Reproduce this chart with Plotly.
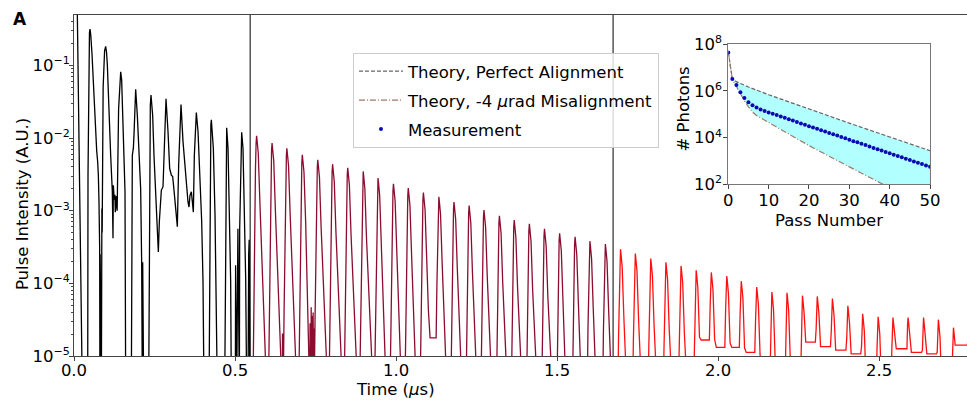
import plotly.graph_objects as go

# ---------------- main panel data ----------------
# early (black) part of the trace: time (us), log10 intensity
black_t = [0.000, 0.0104, 0.0259, 0.0425, 0.0435, 0.0455, 0.0480, 0.0497, 0.0520, 0.0560,
           0.0600, 0.0652, 0.0683, 0.0704, 0.0735, 0.0756, 0.0776, 0.0797, 0.0805, 0.0812,
           0.0820, 0.0828, 0.0836, 0.0850, 0.0866, 0.0875, 0.0905, 0.0950, 0.0983, 0.1010,
           0.1035, 0.1087, 0.1139, 0.1190, 0.1211, 0.1222, 0.1250, 0.1270, 0.1283, 0.1315,
           0.1340, 0.1385, 0.1425, 0.1450, 0.1480, 0.1500, 0.1553, 0.1584, 0.1605, 0.1780,
           0.1811, 0.1843, 0.1863, 0.1890, 0.1915, 0.1967, 0.2019, 0.2070, 0.2101, 0.2122,
           0.2133, 0.2143, 0.2154, 0.2164, 0.2319, 0.2350, 0.2370, 0.2391, 0.2443, 0.2484,
           0.2536, 0.2588, 0.2619, 0.2650, 0.2712, 0.2764, 0.2795, 0.2830, 0.2857, 0.2919,
           0.2971, 0.3023, 0.3064, 0.3106, 0.3157, 0.3209, 0.3250, 0.3300, 0.3323, 0.3385,
           0.3437, 0.3489, 0.3540, 0.3571, 0.3602, 0.3644, 0.3675, 0.3706, 0.3737, 0.3775,
           0.3799, 0.3851, 0.3913, 0.3965, 0.4006, 0.4037, 0.4193, 0.4224, 0.4250, 0.4265,
           0.4327, 0.4379, 0.4431, 0.4451, 0.4679, 0.4710, 0.4727, 0.4741, 0.4783, 0.4834,
           0.4865, 0.4886, 0.5010, 0.5018, 0.5028, 0.5040, 0.5052, 0.5090, 0.5105, 0.5135,
           0.5145, 0.5176, 0.5195, 0.5207, 0.5248, 0.5300, 0.5331, 0.5362, 0.5404, 0.5425,
           0.5440, 0.5460]
black_log = [0.60, -0.31, -5.5, -5.5, -2.5, -0.95, -0.55, -0.50, -0.58, -0.85,
             -1.23, -1.69, -2.12, -2.17, -2.33, -2.51, -2.88, -3.52, -5.5, -3.6,
             -5.5, -3.7, -5.5, -5.5, -2.97, -3.3, -1.3, -0.80, -0.74, -0.82,
             -0.99, -1.69, -2.24, -2.74, -3.38, -2.65, -2.85, -2.78, -3.02, -2.80,
             -3.00, -1.60, -1.15, -1.09, -1.20, -1.50, -2.28, -2.74, -5.5, -5.5,
             -2.24, -2.14, -1.96, -1.45, -1.33, -1.69, -2.24, -2.70, -3.71, -5.5,
             -3.71, -5.5, -3.85, -5.5, -5.5, -2.14, -1.55, -1.41, -1.69, -2.24,
             -2.74, -3.06, -3.57, -3.15, -2.72, -2.67, -2.24, -1.60, -1.46, -1.91,
             -2.42, -2.51, -2.53, -2.72, -2.97, -3.22, -2.37, -1.62, -1.54, -2.05,
             -2.37, -2.70, -2.88, -2.95, -2.79, -2.74, -2.88, -3.02, -2.24, -1.72,
             -1.65, -1.91, -2.60, -3.15, -3.98, -5.5, -5.5, -2.60, -1.82, -1.75,
             -2.14, -3.06, -4.44, -5.5, -5.5, -2.60, -1.92, -1.86, -2.14, -3.06,
             -3.98, -5.5, -5.5, -3.75, -5.5, -3.80, -5.5, -3.25, -5.5, -5.5,
             -3.25, -2.24, -1.97, -1.92, -2.14, -3.06, -3.93, -5.5, -5.5, -3.60,
             -3.40, -5.5]

# later pulses: peak time (us), peak log10 intensity, and the level reached after each pulse
pulse_t = [0.567, 0.615, 0.661, 0.709, 0.757, 0.803, 0.850, 0.898, 0.944, 0.992,
           1.038, 1.085, 1.133, 1.180, 1.227, 1.273, 1.321, 1.367, 1.414, 1.461,
           1.508, 1.556, 1.602, 1.650,
           1.697, 1.743, 1.791, 1.838, 1.885, 1.932, 1.979, 2.027, 2.072, 2.120,
           2.167, 2.214, 2.262, 2.308, 2.355, 2.403, 2.449, 2.497, 2.543, 2.590,
           2.638, 2.684, 2.731, 2.778]
pulse_peak_log = [-1.97, -2.07, -2.14, -2.23, -2.30, -2.36, -2.41, -2.46, -2.55, -2.63,
                  -2.69, -2.75, -2.81, -2.88, -2.93, -2.99, -3.07, -3.13, -3.18, -3.25,
                  -3.31, -3.36, -3.42, -3.46,
                  -3.53, -3.59, -3.66, -3.71, -3.76, -3.82, -3.85, -3.90, -3.97, -4.05,
                  -4.12, -4.13, -4.17, -4.18, -4.21, -4.31, -4.42, -4.46, -4.47, -4.47,
                  -4.47, -4.50, -4.61, -4.50]
gap_floor_log = [-5.6, -5.6, -5.6, -5.6, -5.6, -5.6, -5.6, -5.6, -5.6, -5.6,
                 -5.6, -4.75, -5.6, -5.6, -5.6, -5.6, -5.6, -5.6, -5.6, -5.6,
                 -5.6, -5.6, -5.6, -5.6,
                 -5.6, -5.6, -5.6, -5.6, -5.6, -4.78, -4.88, -4.88, -4.95, -5.6,
                 -5.6, -5.6, -4.81, -4.87, -4.92, -4.97, -5.6, -5.6, -4.90, -4.95,
                 -4.97, -5.6, -4.85, -5.6]
n_dark = 24  # pulses drawn dark red (before the second marker line)

# short noise spikes between dark-red pulses (time us, log10 top)
spike_t = [0.6475, 0.7330, 0.7365, 0.7395, 0.7425, 0.7450]
spike_log = [-4.69, -4.55, -4.33, -4.45, -4.40, -4.62]

# pulse profile (offset from peak in us, drop in log10) read from one pulse
shape_dt = [-0.0115, -0.0085, -0.0060, -0.0035, -0.0015, 0.0, 0.0015, 0.0052, 0.0103,
            0.0155, 0.0207, 0.0259, 0.0320]
shape_dlog = [-3.6, -2.2, -1.2, -0.45, -0.10, 0.0, -0.06, -0.24, -0.92, -1.62, -2.30,
              -2.99, -3.8]

marker_lines = [0.547, 1.674]

# ---------------- inset data ----------------
meas_pass = list(range(51))
meas_log = [7.65, 6.51, 6.26, 5.95, 5.70, 5.52, 5.39, 5.29, 5.21, 5.14,
            5.08, 5.02, 4.97, 4.91, 4.85, 4.79, 4.73, 4.67, 4.61, 4.55,
            4.49, 4.44, 4.38, 4.32, 4.26, 4.20, 4.15, 4.09, 4.03, 3.97,
            3.91, 3.85, 3.80, 3.74, 3.68, 3.62, 3.56, 3.50, 3.45, 3.39,
            3.33, 3.27, 3.21, 3.16, 3.10, 3.04, 2.98, 2.92, 2.87, 2.81, 2.75]
perfect_pass = [0, 1, 2, 5, 10, 20, 30, 40, 50]
perfect_log = [7.65, 6.52, 6.40, 6.17, 5.84, 5.22, 4.62, 4.03, 3.44]
mis_pass = [0, 1, 2, 3, 4, 5, 6, 7, 8, 10, 12, 15, 20, 25, 30, 35, 38, 42, 50]
mis_log = [7.65, 6.50, 6.20, 5.88, 5.58, 5.32, 5.10, 4.95, 4.85, 4.65, 4.45, 4.15,
           3.66, 3.20, 2.75, 2.30, 2.00, 1.65, 0.95]

main_yticks = [-5, -4, -3, -2, -1]
inset_yticks = [2, 4, 6, 8]


def build(idx_from, idx_to, extra_t=(), extra_log=()):
    pts = []
    for i in range(idx_from, idx_to):
        prev_floor = gap_floor_log[i - 1] if i > 0 else -5.6
        next_floor = gap_floor_log[i]
        for dt, dl in zip(shape_dt, shape_dlog):
            fl = prev_floor if dt < 0 else next_floor
            pts.append((pulse_t[i] + dt, max(pulse_peak_log[i] + dl, fl)))
    for t, v in zip(extra_t, extra_log):
        pts += [(t - 0.0006, -5.6), (t, v), (t + 0.0006, -5.6)]
    pts.sort(key=lambda p: p[0])
    return [p[0] for p in pts], [10 ** p[1] for p in pts]


def pow_label(e, sup_px):
    s = str(e).replace("-", "−")
    return "10<sup><span style='font-size:%dpx'>%s</span></sup>" % (sup_px, s)


fig = go.Figure()
fig.add_trace(go.Scatter(x=black_t, y=[10 ** v for v in black_log], mode="lines",
                         line=dict(color="black", width=1.3), showlegend=False,
                         hoverinfo="skip"))
dx, dy = build(0, n_dark, spike_t, spike_log)
fig.add_trace(go.Scatter(x=dx, y=dy, mode="lines", line=dict(color="#8c0c30", width=1.3),
                         showlegend=False, hoverinfo="skip"))
rx, ry = build(n_dark, len(pulse_t))
fig.add_trace(go.Scatter(x=rx, y=ry, mode="lines", line=dict(color="#ff1010", width=1.3),
                         showlegend=False, hoverinfo="skip"))

# inset: fill band
fig.add_trace(go.Scatter(x=perfect_pass, y=[10 ** v for v in perfect_log], mode="lines",
                         line=dict(width=0, color="rgba(0,0,0,0)"), showlegend=False,
                         xaxis="x2", yaxis="y2", hoverinfo="skip"))
fig.add_trace(go.Scatter(x=mis_pass, y=[10 ** v for v in mis_log], mode="lines",
                         line=dict(width=0, color="rgba(0,0,0,0)"), fill="tonexty",
                         fillcolor="rgba(0,255,255,0.3)", showlegend=False,
                         xaxis="x2", yaxis="y2", hoverinfo="skip"))
fig.add_trace(go.Scatter(x=perfect_pass, y=[10 ** v for v in perfect_log], mode="lines",
                         line=dict(color="#666666", width=1.2, dash="4px,2px"),
                         name="Theory, Perfect Alignment", legendgroup="a",
                         xaxis="x2", yaxis="y2"))
fig.add_trace(go.Scatter(x=mis_pass, y=[10 ** v for v in mis_log], mode="lines",
                         line=dict(color="#9a7a68", width=1.2, dash="6px,2px,1px,2px"),
                         name="Theory, -4 <i>μ</i>rad Misalignment", legendgroup="b",
                         xaxis="x2", yaxis="y2"))
fig.add_trace(go.Scatter(x=meas_pass, y=[10 ** v for v in meas_log], mode="markers",
                         marker=dict(color="#0a0ab4", size=4),
                         name="Measurement", legendgroup="c", xaxis="x2", yaxis="y2"))

for xv in marker_lines:
    fig.add_shape(type="line", xref="x", yref="y domain", x0=xv, x1=xv, y0=0, y1=1,
                  line=dict(color="black", width=1))

FS = 16.5
axis_common = dict(showgrid=False, zeroline=False, ticks="outside", showline=True,
                   automargin=False, tickfont=dict(size=FS, color="black"))
fig.update_layout(
    width=967, height=401, autosize=False,
    margin=dict(l=74, r=0, t=15, b=45, pad=0, autoexpand=False),
    paper_bgcolor="white", plot_bgcolor="white",
    font=dict(family="DejaVu Sans", size=FS, color="black"),
    xaxis=dict(domain=[0, 1], range=[0, 2.773], tickvals=[0, 0.5, 1.0, 1.5, 2.0, 2.5],
               ticktext=["0.0", "0.5", "1.0", "1.5", "2.0", "2.5"], ticklen=4,
               ticklabelstandoff=-5,
               linecolor="#444444", mirror=True, **axis_common),
    yaxis=dict(domain=[0, 1], type="log", range=[-5, -0.307],
               tickvals=[10.0 ** e for e in main_yticks],
               ticktext=[pow_label(e, 11) for e in main_yticks],
               ticklen=4, linecolor="#444444", ticklabelstandoff=-4,
               minor=dict(ticks="outside", ticklen=2, dtick="D1", tickcolor="#444444"),
               **axis_common),
    xaxis2=dict(domain=[0.7327, 0.9586], anchor="y2", range=[0, 50], dtick=10, ticklen=4,
                ticklabelstandoff=-3,
                linecolor="#777777", mirror=True, **axis_common),
    yaxis2=dict(domain=[0.5035, 0.914], anchor="x2", type="log", range=[2, 8],
                tickvals=[10.0 ** e for e in inset_yticks],
                ticktext=[pow_label(e, 11) for e in inset_yticks],
                ticklen=4, ticklabelstandoff=-2, linecolor="#777777", mirror=True,
                **axis_common),
    legend=dict(x=0.3124, y=0.8886, xanchor="left", yanchor="top", traceorder="grouped",
                tracegroupgap=4.5, itemwidth=44,
                bgcolor="rgba(255,255,255,0.8)", bordercolor="#cccccc", borderwidth=1,
                font=dict(size=FS)),
    annotations=[
        dict(text="<b>A</b>", xref="paper", yref="paper", x=-0.0605, y=0.9897,
             xanchor="center", yanchor="middle", showarrow=False, font=dict(size=17)),
        dict(text="Pulse Intensity (A.U.)", xref="paper", yref="paper", x=-0.0582, y=0.4457,
             textangle=-90, xanchor="center", yanchor="middle", showarrow=False),
        dict(text="Time (<i>μ</i>s)", xref="paper", yref="paper", x=0.3595,
             y=(356 - 390) / 341, xanchor="center", yanchor="middle", showarrow=False),
        dict(text="# Photons", xref="paper", yref="paper", x=(683.5 - 74) / 893,
             y=(356 - 109) / 341, textangle=-90, xanchor="center", yanchor="middle",
             showarrow=False),
        dict(text="Pass Number", xref="paper", yref="paper", x=(829 - 74) / 893,
             y=(356 - 220.5) / 341, xanchor="center", yanchor="middle", showarrow=False),
    ],
)

fig.write_html("out.html")
